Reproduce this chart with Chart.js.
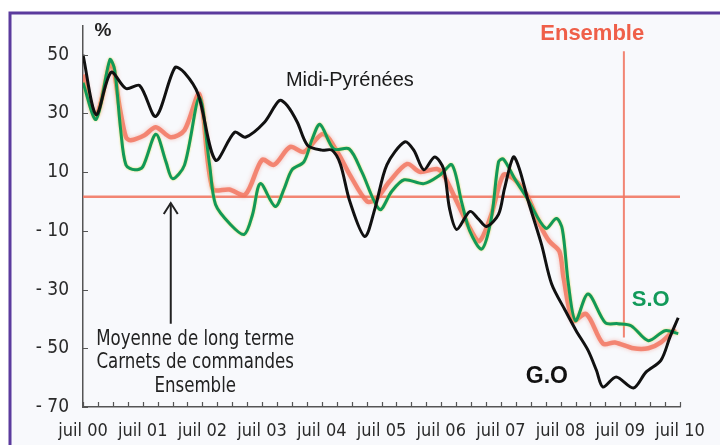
<!DOCTYPE html>
<html>
<head>
<meta charset="utf-8">
<style>
html,body{margin:0;padding:0;background:#fff;}
#wrap{width:720px;height:445px;position:relative;}
canvas{display:block;}
</style>
<script src="https://cdn.jsdelivr.net/npm/chart.js@4.4.1/dist/chart.umd.min.js"></script>
</head>
<body>
<div id="wrap"><canvas id="c" width="720" height="445"></canvas></div>
<script>
// ---- Data (x in years since juil 2000, y in %) ----
const goX = [0,0.22,0.47,0.72,0.95,1.22,1.54,1.70,1.93,2.22,2.54,2.72,3.04,3.29,3.42,3.59,3.76,4.0,4.17,4.31,4.47,4.72,4.89,5.09,5.39,5.54,5.71,5.89,6.04,6.14,6.26,6.48,6.63,6.76,6.96,7.06,7.21,7.31,7.46,7.68,7.85,8.08,8.26,8.46,8.60,8.71,8.93,9.22,9.43,9.68,9.83,9.97];
const goY = [50,29.6,44,38.5,39.5,29,45.6,43.9,36.5,14.1,23.6,21.9,27,34.4,32.7,27,19.2,17.5,17.5,12.8,0,-11.9,-2.4,12.5,20.3,17.5,10.8,15.2,11.1,-2.4,-9.5,-3.4,-6.1,-8.5,-4.4,4.4,15.2,11.1,0,-14.6,-28.1,-37.2,-44,-50.7,-57.5,-63.2,-59.8,-63.5,-58.1,-54.1,-46.3,-39.6];

const ensX = [0,0.22,0.47,0.62,0.72,0.80,1.03,1.22,1.47,1.70,1.95,2.17,2.45,2.72,3.0,3.2,3.47,3.7,4.02,4.26,4.47,4.76,4.92,5.13,5.43,5.64,5.93,6.04,6.26,6.48,6.64,6.84,7.04,7.21,7.43,7.65,7.81,7.98,8.05,8.21,8.43,8.71,8.91,9.22,9.47,9.68,9.92];
const ensY = [43.2,29.6,47,31.4,21.9,20.9,22.6,25.3,21.9,24.3,36.5,4.4,4.1,2.4,14.2,12.5,18.6,16.9,23,16.9,9.1,0,1,6.7,12.8,10.1,11.1,9.1,0,-9.1,-13.5,-4.4,9.1,7.8,2.4,-7.8,-13.5,-17,-26,-40.6,-38.3,-48.4,-48,-50,-50,-48,-43.4];

const soX = [0,0.22,0.45,0.53,0.63,0.72,0.87,1.0,1.22,1.39,1.50,1.70,1.95,2.12,2.22,2.47,2.70,2.84,2.97,3.22,3.37,3.50,3.70,3.84,3.97,4.2,4.46,4.67,4.97,5.17,5.38,5.71,5.98,6.18,6.34,6.48,6.68,6.84,6.96,7.04,7.23,7.45,7.75,7.93,8.03,8.13,8.25,8.46,8.75,8.96,9.18,9.47,9.75,9.97];
const soY = [40.5,28,48.3,44.9,24.6,12.4,10.8,11.8,22.9,13.5,7.8,12.4,35.5,12.5,-1,-7.8,-11.2,-4.4,6.1,-1.7,4.4,10.8,13.5,21.3,26.3,17.9,17.9,10.1,-2.7,3.4,7.4,6.1,9,12.5,0,-10.1,-16.2,-5.7,13.5,14.5,7.8,0.7,-9.1,-5.8,-9.5,-28,-40.6,-31.5,-41.3,-41.6,-42.3,-47.4,-44,-45];

const meanLevel = 1.6;          // Moyenne de long terme
const markerYear = 9.06;        // vertical marker
const markerRange = [51.2, -46.3];
const arrowYear = 1.47;
const arrowRange = [-0.5, -41.6];

const xTickValues = [0,1,2,3,4,5,6,7,8,9,10];
const xTickLabels = ['juil 00','juil 01','juil 02','juil 03','juil 04','juil 05','juil 06','juil 07','juil 08','juil 09','juil 10'];
const yTickValues = [50,30,10,-10,-30,-50,-70];
const yTickLabels = ['50','30','10','- 10','- 30','- 50','- 70'];

const pts = (xs, ys) => xs.map((x,i)=>({x:x, y:ys[i]}));
const NARROW = "'Liberation Sans Narrow','DejaVu Sans Condensed',sans-serif";
const SANS = "'Liberation Sans',Arial,sans-serif";

function squeezedText(ctx, txt, x, y, sx){
  ctx.save();
  ctx.translate(x, y);
  ctx.scale(sx, 1);
  ctx.fillText(txt, 0, 0);
  ctx.restore();
}

const decor = {
  id: 'decor',
  beforeDraw(chart){
    const ctx = chart.ctx;
    ctx.save();
    ctx.fillStyle = '#ffffff';
    ctx.fillRect(0,0,chart.width,chart.height);
    ctx.fillStyle = '#f8f9fc';
    ctx.fillRect(10,13,chart.width-10,chart.height-13);
    ctx.strokeStyle = '#5b3b9d';
    ctx.lineWidth = 3;
    ctx.beginPath();
    ctx.moveTo(10,chart.height); ctx.lineTo(10,13); ctx.lineTo(chart.width,13);
    ctx.stroke();
    ctx.restore();
  },
  beforeDatasetDraw(chart, args){
    const ds = chart.data.datasets[args.index];
    const ctx = chart.ctx;
    ctx.save();
    if (ds.glow){ ctx.shadowColor = ds.glow; ctx.shadowBlur = ds.glowBlur || 3; }
  },
  afterDatasetDraw(chart){
    chart.ctx.restore();
  },
  afterDraw(chart){
    const ctx = chart.ctx;
    const xs = chart.scales.x, ys = chart.scales.y;
    const area = chart.chartArea;
    ctx.save();
    // inner tick marks
    ctx.strokeStyle = '#555';
    ctx.lineWidth = 1.2;
    ctx.beginPath();
    for (let i=0;i<=40;i++){
      const px = Math.round(xs.getPixelForValue(i/4))+0.5;
      ctx.moveTo(px, area.bottom); ctx.lineTo(px, area.bottom-5);
    }
    yTickValues.forEach(v=>{
      const py = Math.round(ys.getPixelForValue(v))+0.5;
      ctx.moveTo(area.left, py); ctx.lineTo(area.left+5, py);
    });
    ctx.stroke();
    // arrow head
    const ax = xs.getPixelForValue(arrowYear), ay = ys.getPixelForValue(arrowRange[0]);
    ctx.strokeStyle = '#222';
    ctx.lineWidth = 2;
    ctx.beginPath();
    ctx.moveTo(ax-7, ay+11); ctx.lineTo(ax, ay); ctx.lineTo(ax+7, ay+11);
    ctx.stroke();
    // texts
    ctx.textAlign = 'center';
    ctx.textBaseline = 'alphabetic';
    ctx.fillStyle = '#1a1a1a';
    ctx.font = '20px ' + SANS;
    ctx.fillText('Midi-Pyrénées', xs.getPixelForValue(4.47), ys.getPixelForValue(39.4));
    ctx.fillStyle = '#ef5f49';
    ctx.font = 'bold 22px ' + SANS;
    ctx.fillText('Ensemble', xs.getPixelForValue(8.53), ys.getPixelForValue(54.9));
    ctx.fillStyle = '#129a5a';
    ctx.fillText('S.O', xs.getPixelForValue(9.51), ys.getPixelForValue(-35.5));
    ctx.fillStyle = '#111';
    ctx.font = 'bold 23px ' + SANS;
    ctx.fillText('G.O', xs.getPixelForValue(7.77), ys.getPixelForValue(-61.9));
    ctx.font = 'bold 19px ' + SANS;
    ctx.fillStyle = '#222';
    ctx.fillText('%', area.left+20, 36);
    ctx.font = '21px ' + NARROW;
    ctx.fillStyle = '#222';
    const cx = xs.getPixelForValue(1.88);
    squeezedText(ctx, 'Moyenne de long terme', cx, 345, 0.88);
    squeezedText(ctx, 'Carnets de commandes', cx, 368, 0.88);
    squeezedText(ctx, 'Ensemble', cx, 392, 0.88);
    ctx.restore();
  }
};

new Chart(document.getElementById('c'), {
  type: 'line',
  data: {
    datasets: [
      { data: pts(goX, goY), borderColor: '#111', borderWidth: 3, tension: 0.3, pointRadius: 0, order: 0 },
      { data: pts(soX, soY), borderColor: '#119958', borderWidth: 3, tension: 0.3, pointRadius: 0, order: 1, glow: 'rgba(225,215,70,0.9)', glowBlur: 2 },
      { data: pts(ensX, ensY), borderColor: 'rgba(242,112,90,0.8)', borderWidth: 4.5, tension: 0.3, pointRadius: 0, order: 2, glow: 'rgba(242,120,100,0.55)', glowBlur: 4 },
      { data: [{x:0,y:meanLevel},{x:10,y:meanLevel}], borderColor: 'rgba(241,120,100,0.9)', borderWidth: 2.5, pointRadius: 0, order: 3 },
      { data: [{x:markerYear,y:markerRange[0]},{x:markerYear,y:markerRange[1]}], borderColor: 'rgba(241,120,100,0.9)', borderWidth: 2, pointRadius: 0, order: 3 },
      { data: [{x:arrowYear,y:arrowRange[0]},{x:arrowYear,y:arrowRange[1]}], borderColor: '#222', borderWidth: 2, pointRadius: 0, order: 3 }
    ]
  },
  options: {
    responsive: false,
    animation: false,
    events: [],
    layout: { padding: { left: 0, right: 40, top: 22, bottom: 0 } },
    plugins: { legend: { display: false }, tooltip: { enabled: false } },
    scales: {
      x: {
        type: 'linear', min: 0, max: 10,
        afterBuildTicks: s => { s.ticks = xTickValues.map(v=>({value:v})); },
        afterFit: s => { s.height = 38; },
        grid: { display: false, drawTicks: false },
        border: { display: true, color: '#555', width: 1.5 },
        ticks: {
          padding: 14, maxRotation: 0, autoSkip: false, color: '#2a2a2a',
          font: { family: NARROW, size: 18 },
          callback: (v) => xTickLabels[xTickValues.indexOf(v)]
        }
      },
      y: {
        type: 'linear', min: -70, max: 60,
        afterBuildTicks: s => { s.ticks = yTickValues.map(v=>({value:v})); },
        afterFit: s => { s.width = 83; },
        grid: { display: false, drawTicks: false },
        border: { display: true, color: '#555', width: 1.5 },
        ticks: {
          padding: 14, color: '#2a2a2a',
          font: { family: NARROW, size: 19 },
          callback: (v) => yTickLabels[yTickValues.indexOf(v)]
        }
      }
    }
  },
  plugins: [decor]
});
</script>
</body>
</html>
